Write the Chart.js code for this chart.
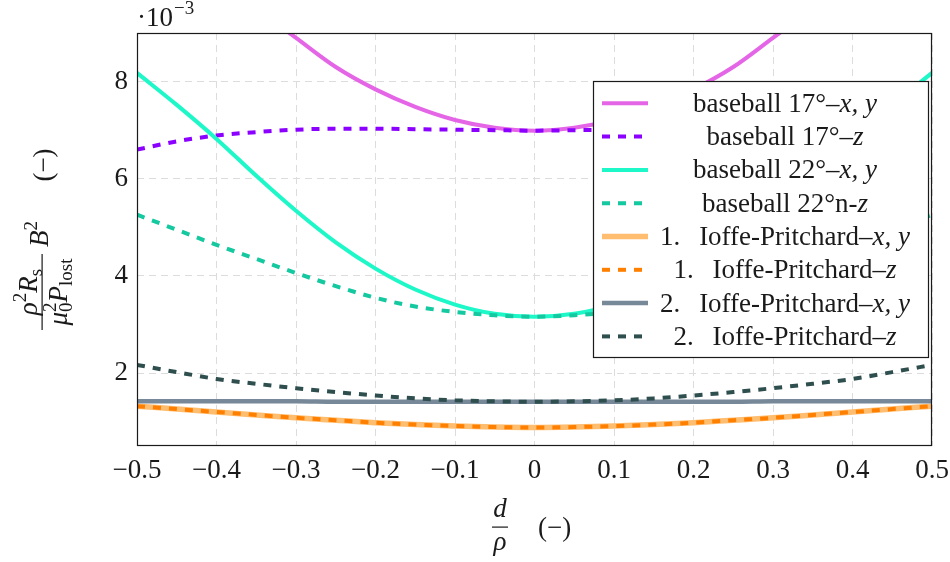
<!DOCTYPE html>
<html>
<head>
<meta charset="utf-8">
<script src="https://cdn.jsdelivr.net/npm/chart.js@4.4.1/dist/chart.umd.min.js"></script>
<style>
  html, body { margin: 0; padding: 0; background: #fff; }
  canvas { display: block; }
</style>
</head>
<body>
<canvas id="c" width="950" height="562"></canvas>
<script>
// d/rho positions
const xs = [-0.5, -0.45, -0.4, -0.35, -0.3, -0.25, -0.2, -0.15, -0.1, -0.05, 0,
            0.05, 0.1, 0.15, 0.2, 0.25, 0.3, 0.35, 0.4, 0.45, 0.5];

// values in units of 1e-3
const b17xy = [11.9, 11.0, 10.2, 9.5, 8.9, 8.30, 7.84, 7.48, 7.21, 7.05, 6.99,
               7.05, 7.21, 7.48, 7.84, 8.30, 8.9, 9.5, 10.2, 11.0, 11.9];
const b17z  = [6.60, 6.77, 6.89, 6.96, 7.01, 7.03, 7.03, 7.02, 7.01, 7.00, 6.99,
               7.00, 7.01, 7.02, 7.03, 7.03, 7.01, 6.96, 6.89, 6.77, 6.60];
const b22xy = [8.18, 7.52, 6.82, 6.06, 5.34, 4.69, 4.15, 3.72, 3.41, 3.22, 3.16,
               3.22, 3.41, 3.72, 4.15, 4.69, 5.34, 6.06, 6.82, 7.52, 8.18];
const b22z  = [5.26, 4.95, 4.64, 4.35, 4.06, 3.79, 3.55, 3.37, 3.26, 3.19, 3.16,
               3.19, 3.26, 3.37, 3.55, 3.79, 4.06, 4.35, 4.64, 4.95, 5.26];
const ip1xy = [1.32, 1.26, 1.20, 1.14, 1.08, 1.03, 0.98, 0.94, 0.91, 0.89, 0.88,
               0.89, 0.91, 0.94, 0.98, 1.03, 1.08, 1.14, 1.20, 1.26, 1.32];
const ip1z  = [1.32, 1.26, 1.20, 1.14, 1.08, 1.03, 0.98, 0.94, 0.91, 0.89, 0.88,
               0.89, 0.91, 0.94, 0.98, 1.03, 1.08, 1.14, 1.20, 1.26, 1.32];
const ip2xy = [1.42, 1.42, 1.42, 1.42, 1.42, 1.41, 1.41, 1.41, 1.41, 1.41, 1.41,
               1.41, 1.41, 1.41, 1.41, 1.41, 1.42, 1.42, 1.42, 1.42, 1.42];
const ip2z  = [2.17, 2.02, 1.88, 1.78, 1.69, 1.61, 1.54, 1.48, 1.44, 1.42, 1.41,
               1.42, 1.44, 1.48, 1.54, 1.61, 1.69, 1.78, 1.88, 2.02, 2.17];

const xTicks = [-0.5, -0.4, -0.3, -0.2, -0.1, 0, 0.1, 0.2, 0.3, 0.4, 0.5];
const yTicks = [2, 4, 6, 8];

const labels = [
  'baseball 17°–$x, y$',
  'baseball 17°–$z$',
  'baseball 22°–$x, y$',
  'baseball 22°n-$z$',
  '1.\u2002\u2009Ioffe-Pritchard–$x, y$',
  '1.\u2002\u2009Ioffe-Pritchard–$z$',
  '2.\u2002\u2009Ioffe-Pritchard–$x, y$',
  '2.\u2002\u2009Ioffe-Pritchard–$z$'
];
const series = [b17xy, b17z, b22xy, b22z, ip1xy, ip1z, ip2xy, ip2z];
const colors = ['#e466e6', '#8b00ff', '#1ef8c8', '#14c8a0', '#ffbd70', '#ff8000', '#778899', '#2f4f4f'];
const dashed = [false, true, false, true, false, true, false, true];
const widths = [4, 4, 4, 4, 5.5, 4, 4.5, 4];

const SERIF = '"Liberation Serif", "Times New Roman", serif';
const INK = '#1a1a1a';
const FS = 27, SS = 19;

function fmtX(v) {
  if (Math.abs(v) < 1e-9) return '0';
  return (v < 0 ? '\u2212' : '') + Math.abs(v).toFixed(1);
}

// text runs: [{t, it, size, dy, stack}]
function setFont(ctx, r) {
  ctx.font = (r.it ? 'italic ' : '') + (r.size || FS) + 'px ' + SERIF;
}
function runsWidth(ctx, runs) {
  let w = 0;
  for (const r of runs) {
    setFont(ctx, r);
    if (!r.stack) w += ctx.measureText(r.t).width;
  }
  return w;
}
function drawRuns(ctx, runs, x, y) {
  let cx = x;
  for (const r of runs) {
    setFont(ctx, r);
    ctx.fillText(r.t, cx, y + (r.dy || 0));
    if (!r.stack) cx += ctx.measureText(r.t).width;
  }
  return cx;
}
function drawRunsCentered(ctx, runs, cx, y) {
  drawRuns(ctx, runs, cx - runsWidth(ctx, runs) / 2, y);
}
function parseLabel(s) {
  return s.split('$').map((p, i) => ({ t: p, it: i % 2 === 1 })).filter(r => r.t.length);
}

const decor = {
  id: 'decor',
  afterDraw(chart) {
    const ctx = chart.ctx;
    const a = chart.chartArea;
    ctx.save();
    // axis box
    ctx.strokeStyle = INK;
    ctx.lineWidth = 1.2;
    ctx.strokeRect(a.left + 0.5, a.top + 0.5, a.right - a.left - 1, a.bottom - a.top - 1);

    ctx.fillStyle = INK;
    ctx.textBaseline = 'alphabetic';
    ctx.textAlign = 'left';

    // exponent
    const ex = drawRuns(ctx, [{ t: '·10' }], 137, 26);
    drawRuns(ctx, [{ t: '\u22123', size: SS }], ex + 1, 14);

    // legend
    const lx = 593, ly = 81, lw = 335, lh = 276;
    ctx.fillStyle = '#fff';
    ctx.fillRect(lx, ly, lw, lh);
    ctx.strokeStyle = INK;
    ctx.lineWidth = 1.2;
    ctx.strokeRect(lx + 0.5, ly + 0.5, lw, lh);
    for (let i = 0; i < labels.length; i++) {
      const cy = 103.3 + i * 33.3;
      ctx.beginPath();
      ctx.strokeStyle = colors[i];
      ctx.lineWidth = widths[i];
      ctx.setLineDash(dashed[i] ? [8, 8] : []);
      ctx.moveTo(602, cy);
      ctx.lineTo(648, cy);
      ctx.stroke();
      ctx.setLineDash([]);
      ctx.fillStyle = INK;
      drawRunsCentered(ctx, parseLabel(labels[i]), 785, cy + 8.5);
    }

    // x title: d / rho (-)
    ctx.fillStyle = INK;
    drawRunsCentered(ctx, [{ t: 'd', it: true }], 500, 517);
    drawRunsCentered(ctx, [{ t: 'ρ', it: true }], 500, 550);
    ctx.fillRect(492, 526.5, 16, 1.2);
    drawRuns(ctx, [{ t: '(\u2212)' }], 538, 536);

    // y title (rotated): local x = 292 - screenY, local y = screenX
    ctx.translate(0, 292);
    ctx.rotate(-Math.PI / 2);
    drawRunsCentered(ctx, [
      { t: 'ρ', it: true }, { t: '2', size: SS, dy: -11 },
      { t: 'R', it: true }, { t: 's', size: SS, dy: 5 }
    ], 0, 37);
    ctx.fillRect(-38, 41.5, 76, 1.2);
    drawRunsCentered(ctx, [
      { t: 'μ', it: true }, { t: '2', size: SS, dy: -11, stack: true }, { t: '0', size: SS, dy: 5 },
      { t: 'P', it: true }, { t: 'lost', size: SS, dy: 5 }
    ], 0, 67);
    drawRunsCentered(ctx, [{ t: 'B', it: true }, { t: '2', size: SS, dy: -11 }], 58, 48);
    drawRunsCentered(ctx, [{ t: '(\u2212)' }], 127, 52);
    ctx.restore();
  }
};

const datasets = series.map((vals, i) => ({
  label: labels[i],
  data: xs.map((x, j) => ({ x, y: vals[j] })),
  borderColor: colors[i],
  borderWidth: widths[i],
  borderDash: dashed[i] ? [8, 8] : [],
  pointRadius: 0,
  fill: false,
  cubicInterpolationMode: 'monotone',
  clip: 0,
  order: series.length - i
}));

new Chart(document.getElementById('c'), {
  type: 'line',
  data: { datasets },
  options: {
    responsive: false,
    animation: false,
    devicePixelRatio: 1,
    layout: { padding: { top: 33, right: 18, left: 0, bottom: 0 } },
    plugins: { legend: { display: false }, tooltip: { enabled: false } },
    scales: {
      x: {
        type: 'linear', min: -0.5, max: 0.5,
        afterBuildTicks: s => { s.ticks = xTicks.map(v => ({ value: v })); },
        afterFit: s => { s.height = 116; s.paddingLeft = 0; s.paddingRight = 0; },
        grid: { color: '#dcdcdc', lineWidth: 1, drawTicks: false },
        border: { display: false, dash: [7, 5] },
        ticks: { color: INK, font: { family: SERIF, size: FS }, padding: 9, maxRotation: 0, autoSkip: false, callback: v => fmtX(v) }
      },
      y: {
        type: 'linear', min: 0.5, max: 9,
        afterBuildTicks: s => { s.ticks = yTicks.map(v => ({ value: v })); },
        afterFit: s => { s.width = 137; s.paddingTop = 0; s.paddingBottom = 0; },
        grid: { color: '#dcdcdc', lineWidth: 1, drawTicks: false },
        border: { display: false, dash: [7, 5] },
        ticks: { color: INK, font: { family: SERIF, size: FS }, padding: 9, callback: v => String(v) }
      }
    }
  },
  plugins: [decor]
});
</script>
</body>
</html>
